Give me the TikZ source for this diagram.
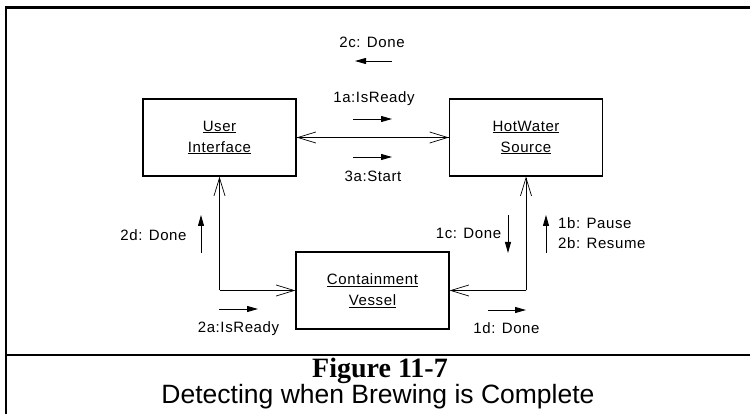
\documentclass[tikz,border=0pt]{standalone}
\usepackage{fontspec}
\setmainfont{Liberation Sans}
\newfontfamily\lblfont{Liberation Sans}[LetterSpace=4]
\newfontfamily\capserif{Liberation Serif}
\usetikzlibrary{arrows.meta}
\tikzset{
  objbox/.style={draw, line width=1.3pt, minimum width=153pt, minimum height=77pt, inner sep=0pt, align=center, font=\lblfont\fontsize{15}{21}\selectfont},
  link/.style={line width=0.8pt},
  openarrow/.style={-{Straight Barb[length=18pt,width=11pt,line width=0.7pt]}},
  msg/.style={line width=0.8pt, -{Triangle[length=11pt,width=6pt]}},
  lbl/.style={inner sep=0pt, font=\lblfont\fontsize{15}{17}\selectfont},
  frame/.style={line width=2.3pt}
}
\begin{document}
\begin{tikzpicture}[x=1pt,y=-1pt]
\useasboundingbox (0,0) rectangle (750,414);
% frame
\draw[frame] (750,7.5) -- (6,7.5) -- (6,414);
\draw[frame] (6,355) -- (750,355);
% objects
\node[objbox] (ui) at (219.5,137.5) {\underline{User}\\\underline{Interface}};
\node[objbox] (hw) at (526,137.5) {\underline{HotWater}\\\underline{Source}};
\node[objbox] (cv) at (372.5,290.5) {\underline{Containment}\\\underline{Vessel}};
% links
\draw[link,openarrow] (ui.east) -- (hw.west);
\draw[link,openarrow] (hw.west) -- (ui.east);
\coordinate (cl) at (219.5,290.5);
\coordinate (cr) at (526,290.5);
\draw[link,openarrow] (cl) -- (ui.south);
\draw[link,openarrow] (cl) -- (cv.west);
\draw[link,openarrow] (cr) -- (hw.south);
\draw[link,openarrow] (cr) -- (cv.east);
% messages
\node[lbl] (m2c) at (372,42) {2c: Done};
\coordinate (a2cs) at (392,61); \coordinate (a2ce) at (355,61);
\draw[msg] (a2cs) -- (a2ce);
\node[lbl] (m1a) at (374,99) {1a:IsReady};
\coordinate (a1as) at (353,119); \coordinate (a1ae) at (392,119);
\draw[msg] (a1as) -- (a1ae);
\coordinate (a3as) at (353,157); \coordinate (a3ae) at (392,157);
\draw[msg] (a3as) -- (a3ae);
\node[lbl] (m3a) at (373,176) {3a:Start};
\node[lbl] (m2d) at (153.5,235) {2d: Done};
\coordinate (a2ds) at (201,253); \coordinate (a2de) at (201,215);
\draw[msg] (a2ds) -- (a2de);
\node[lbl] (m2a) at (238.5,329) {2a:IsReady};
\coordinate (a2as) at (219,309); \coordinate (a2ae) at (258,309);
\draw[msg] (a2as) -- (a2ae);
\node[lbl] (m1c) at (468.5,233) {1c: Done};
\coordinate (a1cs) at (508,215); \coordinate (a1ce) at (508,253);
\draw[msg] (a1cs) -- (a1ce);
\coordinate (a1bs) at (546,253); \coordinate (a1be) at (546,215);
\draw[msg] (a1bs) -- (a1be);
\node[lbl,anchor=west] (m1b) at (558,223) {1b: Pause};
\node[lbl,anchor=west] (m2b) at (558,243) {2b: Resume};
\node[lbl] (m1d) at (506.5,328) {1d: Done};
\coordinate (a1ds) at (488,310); \coordinate (a1de) at (526,310);
\draw[msg] (a1ds) -- (a1de);
% caption
\node[inner sep=0pt, font=\capserif\bfseries\fontsize{28}{30}\selectfont] (fig) at (380,370.5) {Figure 11-7};
\node[inner sep=0pt, font=\fontsize{26.5}{30}\selectfont] (title) at (378,397) {Detecting when Brewing is Complete};
\end{tikzpicture}
\end{document}
